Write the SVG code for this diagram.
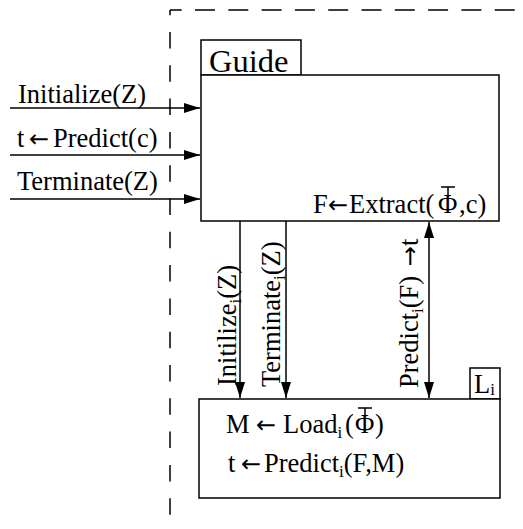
<svg xmlns="http://www.w3.org/2000/svg" width="523" height="529" viewBox="0 0 523 529">
<defs>
<marker id="ah" viewBox="0 0 16 10" refX="16" refY="5" markerWidth="16" markerHeight="10" markerUnits="userSpaceOnUse" orient="auto-start-reverse">
<path d="M0,0 L16,5 L0,10 Z" fill="#000"/>
</marker>
</defs>
<style>
text{font-family:"Liberation Serif","Times New Roman",serif;fill:#000;font-size:26.5px}
.sub{font-size:17px}
.ar{font-family:"DejaVu Sans",sans-serif;font-size:24px}
.box{fill:#fff;stroke:#000;stroke-width:1.5}
.ln{stroke:#000;stroke-width:1.5;fill:none}
.bar{stroke:#000;stroke-width:1.5;fill:none}
</style>
<rect width="523" height="529" fill="#fff"/>
<line x1="170" y1="10" x2="523" y2="10" stroke="#000" stroke-width="1.5" stroke-dasharray="20,13.3" stroke-dashoffset="8.3"/>
<line x1="170" y1="10" x2="170" y2="520" stroke="#000" stroke-width="1.5" stroke-dasharray="16.5,16.8" stroke-dashoffset="11.3"/>
<g id="guide">
<rect class="box" x="201" y="40" width="100" height="35"/>
<text x="209" y="72" style="font-size:32.5px">Guide</text>
<rect class="box" x="201" y="75" width="298" height="146"/>
<text x="313" y="213">F<tspan class="ar" x="328">←</tspan><tspan x="349">Extract(</tspan><tspan x="438">Φ</tspan><tspan x="459">,c)</tspan></text>
<path class="bar" d="M441,187 L455,187 M448,187 L448,195"/>
</g>
<g id="li">
<rect class="box" x="470" y="368" width="30" height="31"/>
<text x="474" y="393">L<tspan class="sub" dy="2">i</tspan></text>
<rect class="box" x="199" y="399" width="301" height="99"/>
<text x="226" y="433">M<tspan class="ar" x="256">←</tspan><tspan x="283">Load</tspan><tspan class="sub" dy="5">i</tspan><tspan dy="-5" x="345">(</tspan><tspan x="355">Φ</tspan><tspan x="375">)</tspan></text>
<path class="bar" d="M358,408 L372,408 M365,408 L365,416"/>
<text x="228" y="472">t<tspan class="ar" x="241">←</tspan><tspan x="264">Predict</tspan><tspan class="sub" dy="5">i</tspan><tspan dy="-5">(F,M)</tspan></text>
</g>
<g id="connectors">
<line class="ln" x1="10" y1="108" x2="200" y2="108" marker-end="url(#ah)"/>
<line class="ln" x1="10" y1="155" x2="200" y2="155" marker-end="url(#ah)"/>
<line class="ln" x1="10" y1="199" x2="200" y2="199" marker-end="url(#ah)"/>
<text x="18" y="103">Initialize(Z)</text>
<text x="17" y="147">t<tspan class="ar" x="29">←</tspan><tspan x="53">Predict(c)</tspan></text>
<text x="17" y="190">Terminate(Z)</text>
<line class="ln" x1="240" y1="221" x2="240" y2="398" marker-end="url(#ah)"/>
<line class="ln" x1="286" y1="221" x2="286" y2="398" marker-end="url(#ah)"/>
<line class="ln" x1="429" y1="222" x2="429" y2="398" marker-start="url(#ah)" marker-end="url(#ah)"/>
<text transform="translate(236,386) rotate(-90)">Initilize<tspan class="sub" dy="5">i</tspan><tspan dy="-5">(Z)</tspan></text>
<text transform="translate(280,387) rotate(-90)">Terminate<tspan class="sub" dy="5">i</tspan><tspan dy="-5">(Z)</tspan></text>
<text transform="translate(418,388) rotate(-90)">Predict<tspan class="sub" dy="5">i</tspan><tspan dy="-5">(F) </tspan><tspan class="ar" dx="3">→</tspan>t</text>
</g>
</svg>
